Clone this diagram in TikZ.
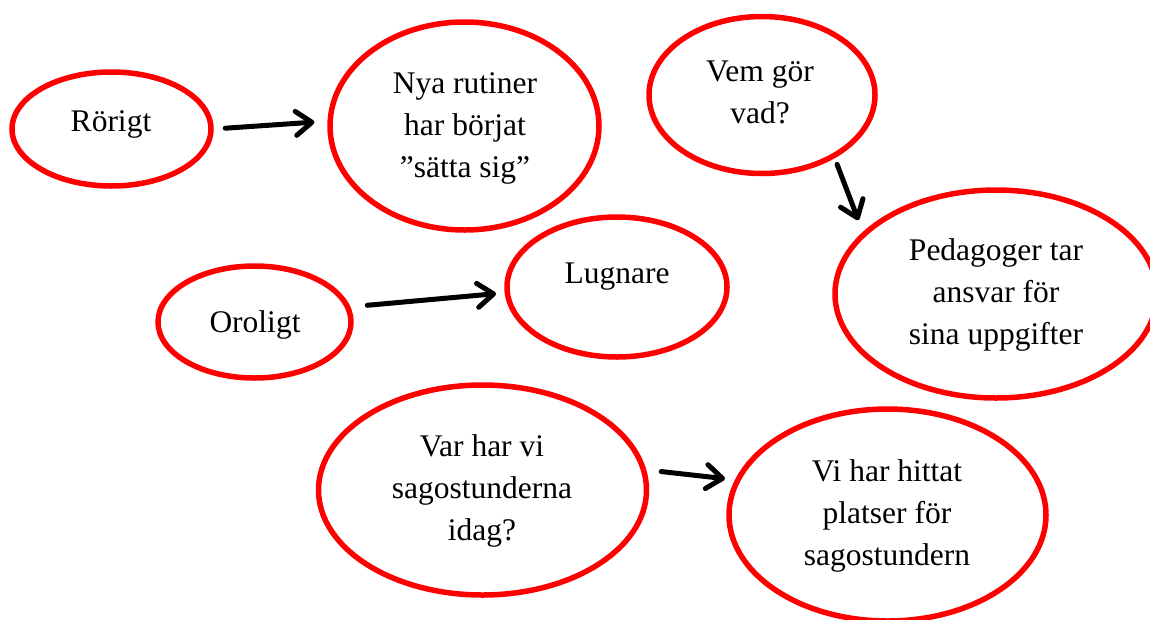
\documentclass[tikz,border=0pt]{standalone}
\usepackage{fontspec}
\setmainfont{Liberation Serif}
\usetikzlibrary{arrows.meta,shapes.geometric}
\tikzset{
  bub/.style={draw=red, line width=5.5pt, ellipse, inner sep=0pt},
  txt/.style={font=\fontsize{31.5}{42}\selectfont, align=center, inner sep=0pt, anchor=base},
  arr/.style={line width=5pt, line cap=round, draw=black,
    -{Straight Barb[round,length=16pt,width=24pt]}}
}
\begin{document}
\begin{tikzpicture}[x=1pt,y=-1pt]
\useasboundingbox (0,0) rectangle (1150,619);
% ellipses
\node[bub, minimum width=199pt, minimum height=114pt] (ror) at (111.5,129) {};
\node[bub, minimum width=269pt, minimum height=208pt] (nya) at (464.5,126) {};
\node[bub, minimum width=226pt, minimum height=157pt] (vem) at (762,95) {};
\node[bub, minimum width=322pt, minimum height=208pt] (ped) at (996,294) {};
\node[bub, minimum width=193pt, minimum height=112pt] (oro) at (254.5,322) {};
\node[bub, minimum width=220pt, minimum height=140pt] (lug) at (617,287) {};
\node[bub, minimum width=328pt, minimum height=210pt] (var) at (482.5,490) {};
\node[bub, minimum width=317pt, minimum height=212pt] (vih) at (887.5,515) {};
% texts (anchor=base is the last line's baseline)
\node[txt] (tror) at (111,131) {Rörigt};
\node[txt] (tnya) at (465,177) {Nya rutiner\\har börjat\\”sätta sig”};
\node[txt] (tvem) at (760,123) {Vem gör\\vad?};
\node[txt] (tped) at (996,344) {Pedagoger tar\\ansvar för\\sina uppgifter};
\node[txt] (toro) at (255,332) {Oroligt};
\node[txt] (tlug) at (617,283) {Lugnare};
\node[txt] (tvar) at (482,540) {Var har vi\\sagostunderna\\idag?};
\node[txt] (tvih) at (887,565) {Vi har hittat\\platser för\\sagostundern};
% arrows
\draw[arr, shorten <=11.5pt, shorten >=13pt] (ror.east) -- (nya.178.4);
\draw[arr, shorten <=17pt, shorten >=8.6pt] (oro.9.6) -- (lug.183.9);
\draw[arr, shorten <=6.6pt, shorten >=12.5pt] (vem.-41.8) -- (ped.155.2);
\draw[arr, shorten <=15pt, shorten >=10pt] (var.7.8) -- (vih.167.4);
\end{tikzpicture}
\end{document}
